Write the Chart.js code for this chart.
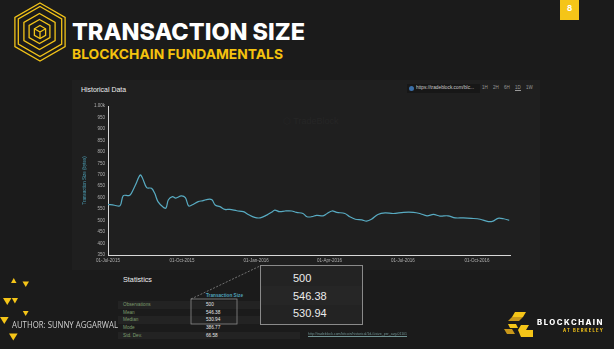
<!DOCTYPE html>
<html>
<head>
<meta charset="utf-8">
<script src="https://cdn.jsdelivr.net/npm/chart.js@4.4.0/dist/chart.umd.min.js"></script>
<style>
html, body { margin: 0; padding: 0; }
body { width: 614px; height: 349px; background: #1b1b1b; position: relative; overflow: hidden; font-family: "Liberation Sans", Arial, sans-serif; }
.t { position: absolute; white-space: nowrap; transform-origin: 0 50%; }
#panel { position: absolute; left: 72px; top: 80px; width: 468px; height: 190px; background: #1f1f1f; }
#chartBox { position: absolute; left: 80px; top: 100px; width: 440px; height: 170px; }
.row { position: absolute; left: 118px; width: 182px; height: 7.7px; background: rgba(255,255,255,0.035); }
</style>
</head>
<body>
<div id="panel"></div>

<!-- hexagon logo -->
<svg class="t" style="left:0;top:0" width="80" height="70" viewBox="0 0 80 70">
  <g fill="none" stroke="#f2c318" stroke-width="1.3" id="hex"></g>
</svg>

<div class="t" data-w="233" style="left:72px;top:21px;font:800 23px/23px Inter,sans-serif;color:#fff">TRANSACTION SIZE</div>
<div class="t" data-w="211" style="left:72px;top:48px;font:700 13.8px/13.8px Inter,sans-serif;color:#f5c20e">BLOCKCHAIN FUNDAMENTALS</div>

<div style="position:absolute;left:560px;top:0;width:19px;height:20px;background:#f5c518"></div>
<div class="t" style="left:567px;top:4px;font:700 8px/9px Inter,sans-serif;color:#fff">8</div>

<div class="t" data-w="45" style="left:81px;top:86px;font:6.5px/7px 'Liberation Sans',sans-serif;color:#eee">Historical Data</div>

<div style="position:absolute;left:407px;top:84px;width:73px;height:9px;background:#171717"></div>
<div style="position:absolute;left:409px;top:86px;width:5px;height:5px;border-radius:50%;background:#3b6fa8"></div>
<div class="t" data-w="58" style="left:416px;top:85px;font:4.5px/6px 'Liberation Sans',sans-serif;color:#ccc">https://tradeblock.com/blc...</div>
<div class="t" style="left:482px;top:85px;font:4.5px/6px 'Liberation Sans',sans-serif;color:#999;word-spacing:4px">1H 2H 6H <span style="border-bottom:1px solid #999">1D</span> 1W</div>

<div class="t" style="left:283px;top:117px;font:9px/9px 'Liberation Sans',sans-serif;color:#262626">&#x2b21; TradeBlock</div>

<div id="chartBox"><canvas id="chart"></canvas></div>

<!-- statistics -->
<div class="row" style="top:301px"></div>
<div class="row" style="top:316.4px"></div>
<div class="row" style="top:331.8px"></div>
<div class="t" data-w="29" style="left:123px;top:276px;font:7.2px/8px 'Liberation Sans',sans-serif;color:#eee">Statistics</div>
<div class="t" data-w="37" style="left:206px;top:293px;font:bold 4.7px/6px 'Liberation Sans',sans-serif;color:#4fa3bb">Transaction Size</div>
<div id="stats"></div>

<svg class="t" style="left:0;top:0" width="614" height="349">
  <line x1="191" y1="299" x2="260" y2="266" stroke="#888" stroke-width="0.8" stroke-dasharray="2,1.5"/>
  <rect x="191" y="299" width="46" height="25" fill="none" stroke="#8a8a8a" stroke-width="0.8"/>
</svg>

<div style="position:absolute;left:260px;top:265px;width:101px;height:58px;background:#232323;border:1.2px solid #8a8a8a">
  <div style="position:absolute;left:0;top:19.5px;width:101px;height:19.5px;background:#262626"></div>
</div>
<div id="zoomVals"></div>

<div class="t" data-w="99" style="left:308px;top:332px;font:3.8px/5px 'Liberation Sans',sans-serif;color:#6f9292;text-decoration:underline">http://tradeblock.com/bitcoin/historical/1d-f-tsize_per_avg-01101</div>

<!-- left triangles -->
<svg class="t" style="left:0;top:270px" width="40" height="79" viewBox="0 270 40 79">
  <g fill="#f5c518">
    <polygon points="11,283 16.5,283 13.75,278"/>
    <polygon points="22.5,281.5 29,281.5 25.75,287"/>
    <polygon points="3,298 11.5,298 7.25,305"/>
    <polygon points="11.8,298 18,298 14.9,303.5"/>
    <polygon points="22.8,311 28.6,311 25.7,316"/>
    <polygon points="0,317 8.6,317 4.3,324"/>
    <polygon points="9,333.5 17.6,333.5 13.3,340.5"/>
  </g>
</svg>
<div class="t" data-w="106" style="left:12px;top:319.5px;font:8.5px/10px 'Open Sans',sans-serif;color:#d0d0d0">AUTHOR: SUNNY AGGARWAL</div>

<!-- blockchain at berkeley -->
<svg class="t" style="left:500px;top:308px" width="40" height="36" viewBox="500 308 40 36">
  <polygon points="515,312 526,312 523,317 512,317" fill="#f5c518"/>
  <polygon points="512,317 523,317 519,321 508,321" fill="#c9981a"/>
  <polygon points="508,324 516,324 518,328 510,328" fill="#f5c518"/>
  <polygon points="504,329 512,329 515,334 507,334" fill="#c9981a"/>
  <polygon points="521,325 529,325 526,330 518,330" fill="#f5c518"/>
  <polygon points="518,330 533,330 533,337 521,337" fill="#f5c518"/>
</svg>
<div class="t" data-w="67" style="left:537px;top:319px;font:800 7.3px/8px Inter,sans-serif;color:#fff;letter-spacing:1.4px">BLOCKCHAIN</div>
<div class="t" data-w="41" style="left:563px;top:327.5px;font:700 4.4px/5px Inter,sans-serif;color:#f5c518;letter-spacing:1.2px">AT BERKELEY</div>

<script>
// daily average transaction size (day 0 = 01-Jul-2015)
const days = [0, 8, 15, 19, 26, 29, 34, 40, 43, 48, 54, 58, 62, 69, 72, 75, 80, 84, 91, 96, 100, 104, 112, 118, 124, 129, 133, 139, 145, 151, 160, 168, 174, 182, 189, 197, 203, 207, 213, 220, 228, 234, 242, 247, 253, 259, 267, 272, 278, 284, 294, 300, 307, 315, 321, 327, 335, 344, 354, 367, 379, 387, 396, 404, 412, 422, 431, 441, 451, 462, 472, 478, 484, 491, 498];
const sizes = [571, 567, 565, 609, 609, 619, 655, 699, 684, 644, 641, 619, 583, 557, 555, 591, 605, 598, 608, 600, 564, 568, 583, 587, 593, 591, 568, 561, 549, 549, 543, 539, 527, 514, 512, 524, 536, 546, 539, 542, 542, 536, 531, 517, 517, 523, 521, 531, 542, 536, 531, 517, 506, 503, 498, 506, 527, 534, 531, 536, 536, 531, 521, 527, 520, 521, 512, 512, 510, 506, 496, 498, 510, 508, 501];

const tickDays = [0, 92, 184, 275, 366, 458];
const tickLabels = ["01-Jul-2015", "01-Oct-2015", "01-Jan-2016", "01-Apr-2016", "01-Jul-2016", "01-Oct-2016"];

const statLabels = ["Observations", "Mean", "Median", "Mode", "Std. Dev."];
const statValues = ["500", "546.38", "530.94", "386.77", "66.58"];
const zoomValues = ["500", "546.38", "530.94"];

// hexagon logo
const hex = document.getElementById("hex");
function hexPts(cx, cy, r) {
    let p = [];
    for (let k = 0; k < 6; k++) {
        const a = Math.PI / 180 * (60 * k - 90);
        p.push((cx + r * Math.cos(a)).toFixed(1) + "," + (cy + r * Math.sin(a)).toFixed(1));
    }
    return p.join(" ");
}
[[40, 32, 29], [40, 31.5, 25], [39.5, 31.5, 18], [39.5, 31.5, 12], [40, 32, 6.5]].forEach(h => {
    const el = document.createElementNS("http://www.w3.org/2000/svg", "polygon");
    el.setAttribute("points", hexPts(h[0], h[1], h[2]));
    hex.appendChild(el);
});
// little cube in the middle
const cube = document.createElementNS("http://www.w3.org/2000/svg", "path");
cube.setAttribute("d", "M40 32 L40 38.5 M40 32 L34.4 28.75 M40 32 L45.6 28.75");
hex.appendChild(cube);

// statistics table
const stats = document.getElementById("stats");
statLabels.forEach((lab, i) => {
    const y = 302 + i * 7.7;
    stats.insertAdjacentHTML("beforeend",
        `<div class="t" style="left:123px;top:${y}px;font:4.7px/6px 'Liberation Sans',sans-serif;color:#7e9c6e">${lab}</div>` +
        `<div class="t" style="left:206px;top:${y}px;font:4.7px/6px 'Liberation Sans',sans-serif;color:#e6e6e6">${statValues[i]}</div>`);
});
const zv = document.getElementById("zoomVals");
zoomValues.forEach((v, i) => {
    zv.insertAdjacentHTML("beforeend",
        `<div class="t" style="left:293px;top:${272 + i * 17.6}px;font:11px/13px 'Liberation Sans',sans-serif;color:#ececec">${v}</div>`);
});

// squeeze texts to the measured widths
document.querySelectorAll("[data-w]").forEach(el => {
    const w = el.getBoundingClientRect().width;
    el.style.transform = "scaleX(" + (el.dataset.w / w) + ")";
});

const ctx = document.getElementById("chart").getContext("2d");

const sizeChart = new Chart(ctx, {
    type: "line",
    data: {
        datasets: [{
            data: days.map((d, i) => ({ x: d, y: sizes[i] })),
            borderColor: "#58abc2",
            borderWidth: 1.2,
            pointRadius: 0,
            tension: 0.35,
            fill: false
        }]
    },
    options: {
        responsive: true,
        maintainAspectRatio: false,
        animation: false,
        layout: { padding: { top: 6, right: 10, left: 0, bottom: 0 } },
        plugins: {
            legend: { display: false },
            tooltip: { enabled: false }
        },
        scales: {
            x: {
                type: "linear",
                min: 0,
                max: 499,
                afterBuildTicks: s => { s.ticks = tickDays.map(v => ({ value: v })); },
                afterFit: s => { s.height = 15; },
                grid: { display: false, drawTicks: false },
                border: { display: true, color: "#d8d8d8", width: 1 },
                ticks: {
                    color: "#b0b0b0",
                    font: { size: 4.5 },
                    padding: 3,
                    maxRotation: 0,
                    autoSkip: false,
                    callback: v => {
                        const i = tickDays.indexOf(v);
                        return i >= 0 ? tickLabels[i] : "";
                    }
                }
            },
            y: {
                min: 350,
                max: 1000,
                afterFit: s => { s.width = 28; },
                grid: { display: false, drawTicks: false },
                border: { display: true, color: "#d8d8d8", width: 1 },
                ticks: {
                    stepSize: 50,
                    color: "#b0b0b0",
                    font: { size: 4.5 },
                    padding: 3,
                    callback: v => v >= 1000 ? "1.00k" : v
                },
                title: {
                    display: true,
                    text: "Transaction Size (bytes)",
                    color: "#4c9fb5",
                    font: { size: 4.5 },
                    padding: { top: 2, bottom: 0 }
                }
            }
        }
    }
});
</script>
</body>
</html>
